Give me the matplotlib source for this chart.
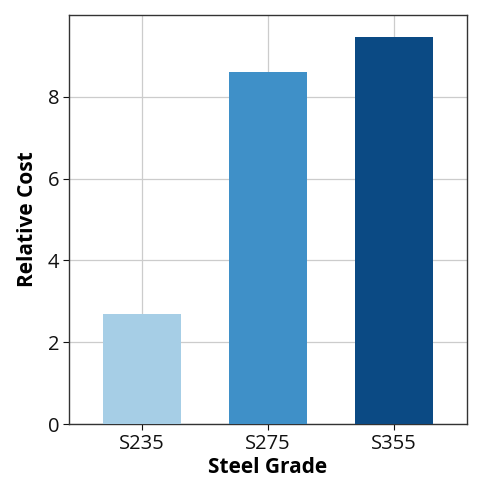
import numpy as np
import matplotlib
matplotlib.use("Agg")
import matplotlib.pyplot as plt

plt.rcParams['font.family'] = ['Open Sans', 'DejaVu Sans']

# data
grades = ["S235", "S275", "S355"]
relative_cost = [2.68, 8.61, 9.47]
bar_colors = ["#a6cee6", "#3f90c8", "#0b4a84"]

fig, ax = plt.subplots(figsize=(5, 4.82), dpi=100)
fig.subplots_adjust(left=0.138, right=0.933, top=0.969, bottom=0.12)

x = np.arange(len(grades))
ax.bar(x, relative_cost, width=0.62, color=bar_colors, zorder=3)

ax.set_xticks(x)
ax.set_xticklabels(grades)
ax.set_xlim(-0.58, 2.58)
ax.set_ylim(0, 10)
ax.set_yticks([0, 2, 4, 6, 8])

ax.grid(True, color="#cccccc", linewidth=0.9, zorder=0)
ax.set_axisbelow(True)
for s in ax.spines.values():
    s.set_color("#333333")
    s.set_linewidth(1.0)
ax.tick_params(labelsize=14.5, colors="#111111", length=4, pad=3)

ax.set_xlabel("Steel Grade", fontsize=15, fontweight="bold", labelpad=2)
ax.set_ylabel("Relative Cost", fontsize=15, fontweight="bold", labelpad=7)

plt.savefig("out.png", dpi=100)
